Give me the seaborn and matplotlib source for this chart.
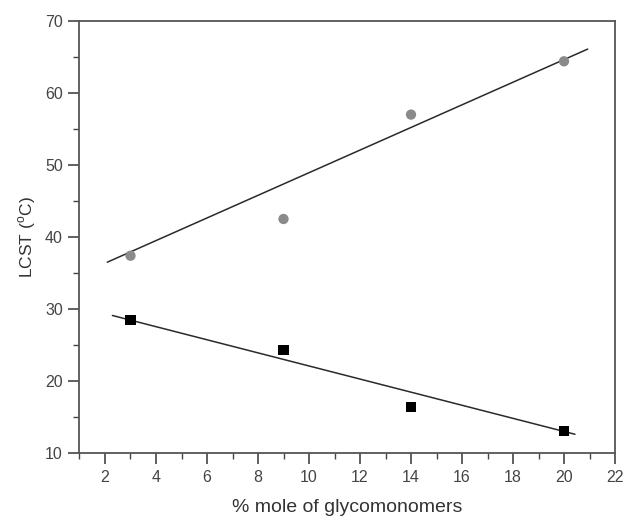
import numpy as np
import pandas as pd
import matplotlib
matplotlib.use("Agg")
import matplotlib.pyplot as plt
import seaborn as sns
from matplotlib.ticker import MultipleLocator

# Data
glyco_pct = [3, 9, 14, 20]
lcst_upper = [37.4, 42.5, 57.0, 64.4]   # grey circles
lcst_lower = [28.5, 24.3, 16.4, 13.1]   # black squares

# Fitted trend lines (endpoints)
fit_upper_x = [2.09, 20.93]
fit_upper_y = [36.5, 66.1]
fit_lower_x = [2.29, 20.43]
fit_lower_y = [29.1, 12.6]

x_ticks = [2, 4, 6, 8, 10, 12, 14, 16, 18, 20, 22]
y_ticks = [10, 20, 30, 40, 50, 60, 70]

sns.set_theme(style="ticks")
plt.rcParams['font.family'] = ['Liberation Sans', 'DejaVu Sans']

fig = plt.figure(figsize=(6.24, 5.22), dpi=100)
ax = fig.add_axes([0.1274, 0.1322, 0.8582, 0.8276])

df_up = pd.DataFrame({"x": glyco_pct, "y": lcst_upper})
df_lo = pd.DataFrame({"x": glyco_pct, "y": lcst_lower})
fu = pd.DataFrame({"x": fit_upper_x, "y": fit_upper_y})
fl = pd.DataFrame({"x": fit_lower_x, "y": fit_lower_y})

sns.lineplot(data=fu, x="x", y="y", ax=ax, color="#2a2a2a", linewidth=1.1, sort=False, zorder=2)
sns.lineplot(data=fl, x="x", y="y", ax=ax, color="#2a2a2a", linewidth=1.1, sort=False, zorder=2)
sns.scatterplot(data=df_up, x="x", y="y", ax=ax, marker="o", s=55, color="#8a8a8a",
                edgecolor="none", zorder=3)
sns.scatterplot(data=df_lo, x="x", y="y", ax=ax, marker="s", s=55, color="#000000",
                edgecolor="none", zorder=3)

ax.set_xlim(1, 22)
ax.set_ylim(10, 70)
ax.set_xticks(x_ticks)
ax.set_yticks(y_ticks)
ax.set_xticklabels([str(t) for t in x_ticks])
ax.set_yticklabels([str(t) for t in y_ticks])
ax.xaxis.set_minor_locator(MultipleLocator(1))
ax.yaxis.set_minor_locator(MultipleLocator(5))
ax.tick_params(which="major", direction="out", length=8, width=1.2, color="#444444",
               labelsize=11.5, labelcolor="#444444", pad=4, top=False, right=False)
ax.tick_params(which="minor", direction="out", length=4, width=1.0, color="#444444",
               top=False, right=False)

for sp in ax.spines.values():
    sp.set_visible(True)
    sp.set_color("#555555")
    sp.set_linewidth(1.3)

ax.set_xlabel("% mole of glycomonomers", fontsize=14, color="#333333", labelpad=10)
ax.set_ylabel(r"LCST ($^\mathregular{o}$C)", fontsize=12.5, color="#333333", labelpad=5)
ax.grid(False)

fig.savefig("out.png", dpi=100)
